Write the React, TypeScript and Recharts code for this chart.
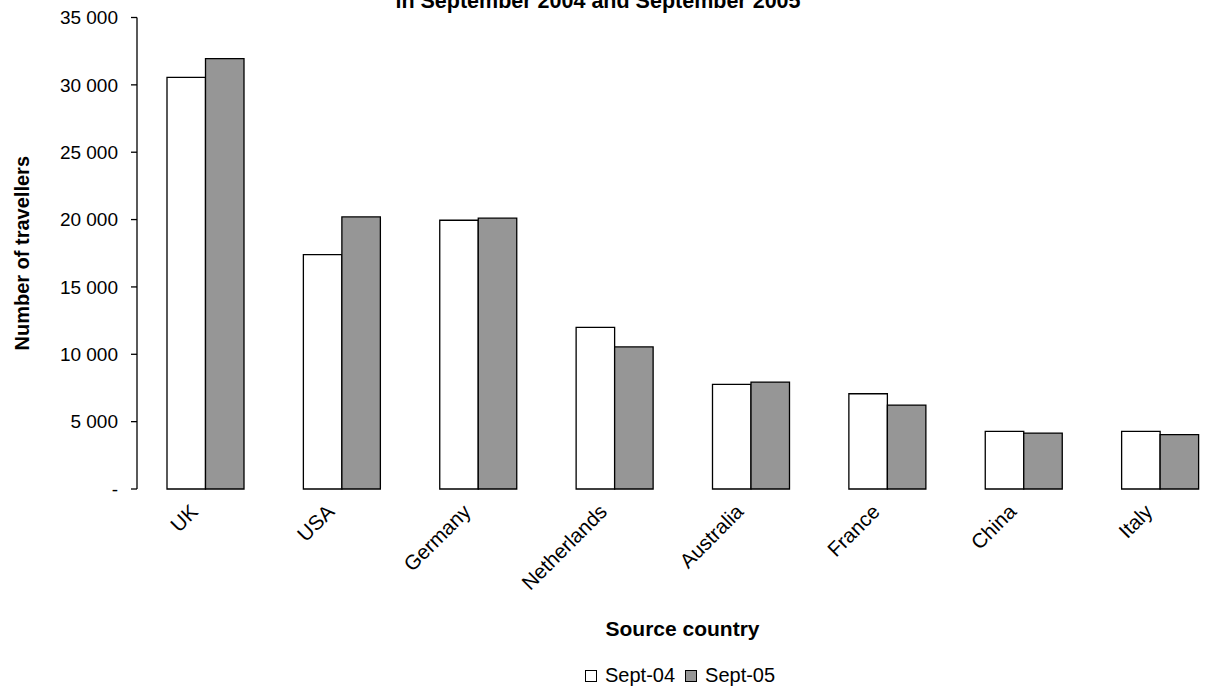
import React from 'react';
import { BarChart, Bar, XAxis, YAxis, Legend, Label } from 'recharts';

const countries = ['UK', 'USA', 'Germany', 'Netherlands', 'Australia', 'France', 'China', 'Italy'];
const sept04 = [30550, 17400, 19950, 12000, 7770, 7070, 4280, 4280];
const sept05 = [31950, 20200, 20100, 10550, 7940, 6230, 4150, 4030];
const yTicks = [0, 5000, 10000, 15000, 20000, 25000, 30000, 35000];
const boundaryTicks = [0, 1, 2, 3, 4, 5, 6, 7, 8];
const seriesNames = ['Sept-04', 'Sept-05'];
const seriesColors = ['#FFFFFF', '#969696'];
const titleLine = 'in September 2004 and September 2005';
const yTitle = 'Number of travellers';
const xTitle = 'Source country';

const data = countries.map((c, i) => ({ country: c, s04: sept04[i], s05: sept05[i] }));

const FONT = '"Liberation Sans", Arial, sans-serif';

const fmt = (v: number) => (v === 0 ? '-' : v.toLocaleString('en-US').replace(/,/g, ' '));

const CatTick = (props: any) => {
  const { x, y, payload } = props;
  const ax = x - 6;
  const ay = y + 16;
  return (
    <text
      x={ax}
      y={ay}
      textAnchor="end"
      transform={`rotate(-45, ${ax}, ${ay})`}
      fontFamily={FONT}
      fontSize={20.5}
      fill="#000"
    >
      {payload.value}
    </text>
  );
};

const LegendContent = () => (
  <div style={{ display: 'flex', alignItems: 'center', fontFamily: FONT, fontSize: 20, lineHeight: '23px', color: '#000', whiteSpace: 'nowrap' }}>
    {seriesNames.map((n, i) => (
      <div key={n} style={{ display: 'flex', alignItems: 'center', marginRight: 10 }}>
        <span style={{ display: 'inline-block', width: 10, height: 10, background: seriesColors[i], border: '1px solid #000', marginRight: 8 }} />
        <span>{n}</span>
      </div>
    ))}
  </div>
);

export default function App() {
  return (
    <div style={{ position: 'absolute', left: 0, top: 0, width: 1222, height: 689, overflow: 'hidden', background: '#fff' }}>
      <svg width={1222} height={30} style={{ position: 'absolute', left: 0, top: 0 }}>
        <text x={598} y={8} textAnchor="middle" fontFamily={FONT} fontWeight="bold" fontSize={21.5} fill="#000">
          {titleLine}
        </text>
      </svg>
      <div style={{ position: 'absolute', left: 0, top: 0 }}>
        <BarChart
          width={1228}
          height={689}
          data={data}
          margin={{ top: 17.5, right: 0, bottom: 0, left: 0 }}
          barGap={0}
          barSize={38.5}
        >
          <XAxis
            xAxisId="num"
            type="number"
            domain={[0, 8]}
            ticks={boundaryTicks}
            allowDataOverflow
            height={0}
            tick={false}
            axisLine={{ stroke: '#000', strokeWidth: 1.3 }}
            tickLine={{ stroke: '#000', strokeWidth: 1.3 }}
            tickSize={6}
          />
          <XAxis
            xAxisId="cat"
            dataKey="country"
            height={200}
            axisLine={false}
            tickLine={false}
            interval={0}
            tick={<CatTick />}
          >
            <Label
              content={({ viewBox }: any) => (
                <text
                  x={viewBox.x + viewBox.width / 2}
                  y={636}
                  textAnchor="middle"
                  fontFamily={FONT}
                  fontWeight="bold"
                  fontSize={21}
                  fill="#000"
                >
                  {xTitle}
                </text>
              )}
            />
          </XAxis>
          <YAxis
            width={137}
            domain={[0, 35000]}
            ticks={yTicks}
            interval={0}
            tickFormatter={fmt}
            axisLine={{ stroke: '#000', strokeWidth: 1.3 }}
            tickLine={{ stroke: '#000', strokeWidth: 1.3 }}
            tickSize={6}
            tickMargin={13}
            tick={{ fontFamily: FONT, fontSize: 19, fill: '#000' }}
          >
            <Label
              content={({ viewBox }: any) => {
                const cx = 28.5;
                const cy = viewBox.y + viewBox.height / 2;
                return (
                  <text
                    x={cx}
                    y={cy}
                    textAnchor="middle"
                    transform={`rotate(-90, ${cx}, ${cy})`}
                    fontFamily={FONT}
                    fontWeight="bold"
                    fontSize={20}
                    fill="#000"
                  >
                    {yTitle}
                  </text>
                );
              }}
            />
          </YAxis>
          <Legend
            layout="horizontal"
            verticalAlign="middle"
            align="center"
            wrapperStyle={{ position: 'absolute', left: 585, top: 664, width: 'auto' }}
            content={<LegendContent />}
          />
          <Bar xAxisId="cat" dataKey="s04" name={seriesNames[0]} fill={seriesColors[0]} stroke="#000" strokeWidth={1.3} isAnimationActive={false} />
          <Bar xAxisId="cat" dataKey="s05" name={seriesNames[1]} fill={seriesColors[1]} stroke="#000" strokeWidth={1.3} isAnimationActive={false} />
        </BarChart>
      </div>
    </div>
  );
}
